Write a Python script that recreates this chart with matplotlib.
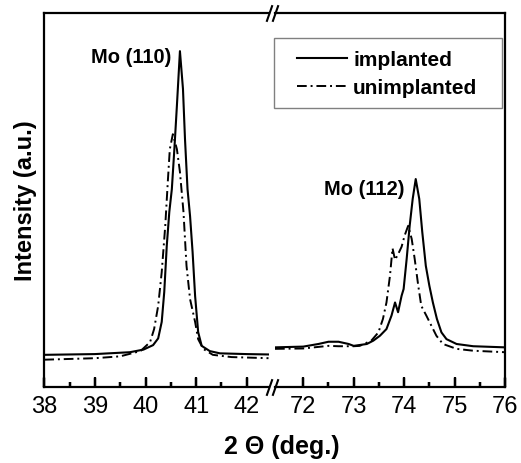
import numpy as np
import matplotlib
matplotlib.use('Agg')
import matplotlib.pyplot as plt
from matplotlib.path import Path
from matplotlib.patches import Rectangle

plt.rcParams['font.family'] = ['Liberation Sans', 'DejaVu Sans']

# Mo (110) region
x_left_imp = [38.0, 39.0, 39.69, 39.96, 40.15, 40.25, 40.32, 40.37, 40.42, 40.47, 40.52, 40.57,
              40.62, 40.68, 40.74, 40.78, 40.83, 40.88, 40.93, 40.98, 41.04, 41.11, 41.27,
              41.47, 42.0, 42.43]
y_left_imp = [8.6, 8.8, 9.3, 10.0, 11.2, 13.0, 17.4, 25.4, 37.8, 46.8, 52.9, 63.6,
              75.2, 89.8, 79.7, 66.3, 52.9, 45.7, 36.1, 24.3, 14.7, 11.0, 9.6,
              9.0, 8.8, 8.7]

x_left_unimp = [38.0, 39.0, 39.5, 39.9, 40.09, 40.17, 40.25, 40.32, 40.39, 40.44, 40.48, 40.54,
                40.62, 40.68, 40.75, 40.81, 40.88, 40.98, 41.04, 41.14, 41.33, 41.7, 42.43]
y_left_unimp = [7.3, 7.7, 8.2, 9.6, 12.0, 15.5, 21.7, 30.7, 43.1, 54.8, 63.6, 67.6,
                63.6, 57.5, 46.8, 32.4, 23.5, 17.4, 12.8, 10.2, 8.6, 8.0, 7.7]

# Mo (112) region
x_right_imp = [71.44, 72.0, 72.3, 72.5, 72.7, 72.9, 73.0, 73.26, 73.39, 73.52, 73.65, 73.75,
               73.82, 73.88, 73.95, 73.99, 74.05, 74.11, 74.17, 74.23, 74.30, 74.36, 74.43,
               74.5, 74.57, 74.65, 74.74, 74.84, 75.04, 75.37, 76.0]
y_right_imp = [10.6, 10.8, 11.5, 12.1, 12.1, 11.5, 11.0, 11.5, 12.4, 13.7, 15.5, 19.1,
               22.6, 20.0, 24.4, 26.2, 34.2, 43.1, 50.3, 55.6, 50.3, 41.4, 32.4,
               27.1, 22.6, 18.2, 14.6, 12.8, 11.5, 10.9, 10.6]

x_right_unimp = [71.44, 72.0, 72.5, 72.7, 73.0, 73.12, 73.35, 73.49, 73.58, 73.65, 73.72, 73.77,
                 73.82, 73.88, 73.95, 74.01, 74.08, 74.15, 74.21, 74.28, 74.34, 74.44, 74.54,
                 74.64, 74.77, 75.04, 75.37, 76.0]
y_right_unimp = [10.2, 10.3, 11.0, 10.9, 10.9, 11.0, 12.4, 14.6, 18.2, 22.6, 29.8, 37.1,
                 34.0, 35.5, 37.5, 40.5, 43.1, 39.6, 34.2, 27.1, 21.7, 19.1, 16.4,
                 13.7, 11.5, 10.2, 9.7, 9.3]

left_major = [38, 39, 40, 41, 42]
left_minor = [38.5, 39.5, 40.5, 41.5]
right_major = [72, 73, 74, 75, 76]
right_minor = [72.5, 73.5, 74.5, 75.5]

W, H = 521, 464
fig = plt.figure(figsize=(W / 100, H / 100), dpi=100)
x0, xl, xr, x1 = 44.3, 268.5, 275.0, 505.0
ybot, ytop = 388.0, 14.0
axl = fig.add_axes([x0 / W, 1 - ybot / H, (xl - x0) / W, (ybot - ytop) / H])
axr = fig.add_axes([xr / W, 1 - ybot / H, (x1 - xr) / W, (ybot - ytop) / H])

dashdot = (0, (5, 2, 1, 2))
for ax, xi, yi, xu, yu in [(axl, x_left_imp, y_left_imp, x_left_unimp, y_left_unimp),
                           (axr, x_right_imp, y_right_imp, x_right_unimp, y_right_unimp)]:
    ax.plot(xi, yi, color='black', lw=1.5, solid_joinstyle='round', label='implanted')
    ax.plot(xu, yu, color='black', lw=1.4, linestyle=dashdot, label='unimplanted')
    ax.set_ylim(0, 100)
    ax.set_yticks([])
    for s in ax.spines.values():
        s.set_linewidth(1.6)
    ax.tick_params(axis='x', which='both', direction='in', bottom=True, top=False,
                   width=1.6, labelsize=17, pad=6, color='black')
    ax.tick_params(axis='x', which='major', length=7)
    ax.tick_params(axis='x', which='minor', length=3.5)

axl.set_xlim(38, 42.43)
axr.set_xlim(71.44, 76)
axl.set_xticks(left_major)
axl.set_xticks(left_minor, minor=True)
axr.set_xticks(right_major)
axr.set_xticks(right_minor, minor=True)
axl.spines['right'].set_visible(False)
axr.spines['left'].set_visible(False)

# inward tick marks drawn explicitly as well, so they always show
for ax, maj, mnr in [(axl, left_major, left_minor), (axr, right_major, right_minor)]:
    tr = ax.get_xaxis_transform()
    ax.vlines(maj, 0, 9.5 / (ybot - ytop), transform=tr, colors='black', lw=1.7,
              zorder=5, clip_on=False)
    ax.vlines(mnr, 0, 5.0 / (ybot - ytop), transform=tr, colors='black', lw=1.7,
              zorder=5, clip_on=False)

# break marks
slash = Path([(-0.35, -1.0), (0.35, 1.0)], [Path.MOVETO, Path.LINETO])
kw = dict(marker=slash, markersize=12, linestyle='none', color='black',
          mec='black', mew=1.5, clip_on=False)
axl.plot([1, 1], [0, 1], transform=axl.transAxes, **kw)
axr.plot([0, 0], [0, 1], transform=axr.transAxes, **kw)

axl.set_ylabel('Intensity (a.u.)', fontsize=17, fontweight='bold', labelpad=5)
fig.text(282 / W, 1 - 447 / H, '2 \u0398 (deg.)', fontsize=18, fontweight='bold',
         ha='center', va='center')

axl.text(40.52, 86.9, 'Mo (110)', fontsize=14.5, fontweight='bold', ha='right', va='baseline')
axr.text(74.0, 51.6, 'Mo (112)', fontsize=14.5, fontweight='bold', ha='right', va='baseline')

# legend
axr.add_patch(Rectangle(((274 - xr) / (x1 - xr), (ybot - 109) / (ybot - ytop)),
                        (502 - 274) / (x1 - xr), 70 / (ybot - ytop),
                        transform=axr.transAxes, fill=False, edgecolor='#808080', lw=1.0,
                        clip_on=False))
axr.legend(loc='upper left', bbox_to_anchor=((297 - xr) / (x1 - xr), (ybot - 51) / (ybot - ytop)),
           frameon=False, borderpad=0, borderaxespad=0, handlelength=2.4,
           handletextpad=0.3, labelspacing=0.45, prop={'weight': 'bold', 'size': 15})

fig.savefig('out.png', dpi=100)
